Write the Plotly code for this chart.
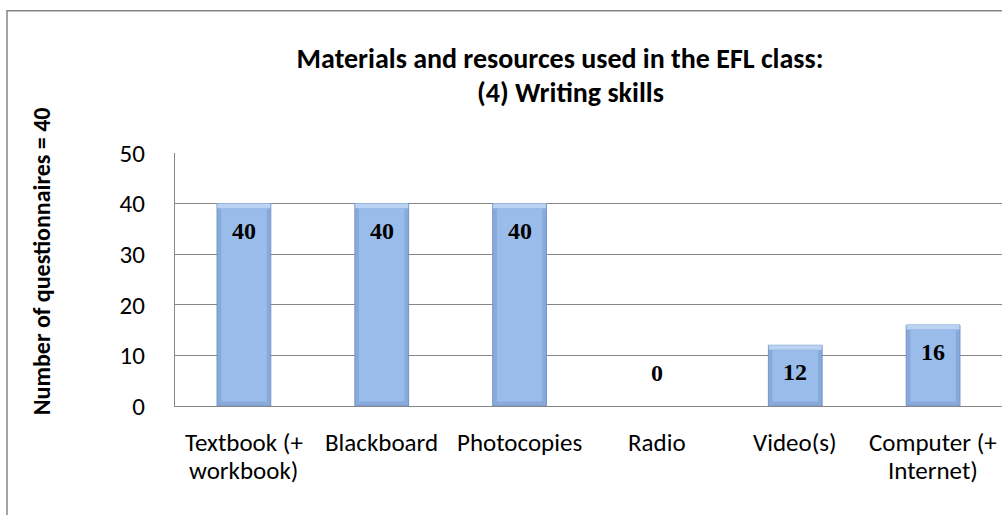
import plotly.graph_objects as go

categories = ["Textbook (+\nworkbook)", "Blackboard", "Photocopies", "Radio", "Video(s)", "Computer (+\nInternet)"]
values = [40, 40, 40, 0, 12, 16]
y_ticks = [0, 10, 20, 30, 40, 50]
title_lines = ["Materials and resources used in the EFL class:", "(4) Writing skills"]
y_title = "Number of questionnaires = 40"

W, H = 1002, 515
L, R, T, B = 175, 0, 152.6, 109
plot_w = W - L - R
plot_h = H - T - B

GRID = "#868686"
SANS = "Calibri, Carlito, Lato, sans-serif"
SERIF = "'Times New Roman', 'Liberation Serif', serif"

BAR_W = 0.39
BEVEL_X = 0.03    # bevel thickness in category units (~4 px)
BEVEL_Y = 0.9     # bevel thickness in value units (~4.5 px)

x_idx = list(range(len(categories)))


def px_x(px):
    return (px - L) / plot_w


def px_y(py):
    return (H - B - py) / plot_h


fig = go.Figure()
# outer bar (slightly darker bevel sides)
fig.add_trace(go.Bar(
    x=x_idx, y=values, width=BAR_W,
    marker=dict(color="#87AADB",
                line=dict(color="#7393C4", width=[1 if v > 0 else 0 for v in values])),
    hoverinfo="skip", showlegend=False,
))
# light top bevel band
fig.add_trace(go.Bar(
    x=x_idx, y=[BEVEL_Y if v > 2 * BEVEL_Y else None for v in values],
    base=[v - BEVEL_Y for v in values], width=BAR_W - 0.006,
    marker=dict(color="#BAD3F3", line=dict(width=0)),
    hoverinfo="skip", showlegend=False,
))
# main face
fig.add_trace(go.Bar(
    x=x_idx, y=[v - 2 * BEVEL_Y if v > 2 * BEVEL_Y else None for v in values],
    base=BEVEL_Y, width=BAR_W - 2 * BEVEL_X,
    marker=dict(color="#99BCEA", line=dict(width=0)),
    hoverinfo="skip", showlegend=False,
))

annotations = []
# value labels
for xi, v in zip(x_idx, values):
    if v > 0:
        annotations.append(dict(x=xi, y=v, xref="x", yref="y", text=f"<b>{v}</b>",
                                showarrow=False, yanchor="top", yshift=-12,
                                font=dict(family=SERIF, size=24, color="black")))
    else:
        annotations.append(dict(x=xi, y=v, xref="x", yref="y", text=f"<b>{v}</b>",
                                showarrow=False, yanchor="bottom", yshift=18,
                                font=dict(family=SERIF, size=24, color="black")))
# category labels (two-line, wider line spacing)
for xi, lab in zip(x_idx, categories):
    for li, line in enumerate(lab.split("\n")):
        annotations.append(dict(x=xi, y=0, xref="x", yref="y", text=line,
                                showarrow=False, yanchor="middle",
                                yshift=-(36 + 28 * li),
                                font=dict(family=SANS, size=25, color="black")))
# title second line
annotations.append(dict(x=px_x(570), y=px_y(92), xref="paper", yref="paper",
                        text=f"<b>{title_lines[1]}</b>", showarrow=False,
                        xanchor="center", yanchor="middle",
                        font=dict(family=SANS, size=28, color="black")))
# y axis title
annotations.append(dict(x=px_x(41), y=px_y(261), xref="paper", yref="paper",
                        text=f"<b>{y_title}</b>", textangle=-90, showarrow=False,
                        xanchor="center", yanchor="middle",
                        font=dict(family=SANS, size=24, color="black")))

shapes = [dict(type="rect", xref="paper", yref="paper",
               x0=px_x(7), x1=px_x(W + 10),
               y0=px_y(H + 10), y1=px_y(10),
               line=dict(color=GRID, width=1.5), fillcolor="rgba(0,0,0,0)", layer="below")]

fig.update_layout(
    width=W, height=H,
    margin=dict(l=L, r=R, t=T, b=B, pad=0),
    paper_bgcolor="white", plot_bgcolor="white",
    barmode="overlay",
    title=dict(text=f"<b>{title_lines[0]}</b>",
               x=560 / W, xanchor="center", xref="container",
               y=1 - 58 / H, yanchor="middle", yref="container",
               font=dict(family=SANS, size=28, color="black")),
    xaxis=dict(range=[-0.5, len(categories) - 0.5], showticklabels=False, showgrid=False,
               showline=True, linecolor=GRID, linewidth=1.3, ticks="", zeroline=False,
               fixedrange=True),
    yaxis=dict(range=[0, 50], tickvals=y_ticks, showgrid=True, gridcolor=GRID, gridwidth=1.3,
               showline=True, linecolor=GRID, linewidth=1.3, ticks="", zeroline=False,
               ticklabelstandoff=24,
               tickfont=dict(family=SANS, size=25, color="black"), fixedrange=True),
    annotations=annotations, shapes=shapes,
)

fig.write_html("out.html", config=dict(displayModeBar=False))
